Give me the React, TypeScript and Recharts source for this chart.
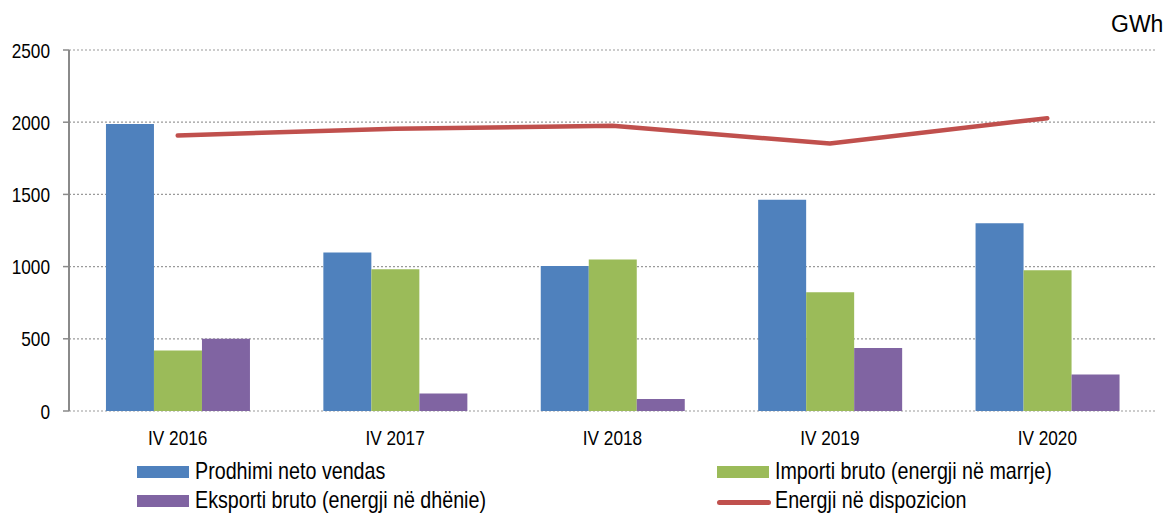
import { ComposedChart, Bar, Line, XAxis, YAxis, CartesianGrid } from "recharts";

const quarters = ["IV 2016", "IV 2017", "IV 2018", "IV 2019", "IV 2020"];
const prodhimi = [1987, 1097, 1005, 1463, 1301];
const importi = [419, 982, 1049, 822, 975];
const eksporti = [500, 121, 83, 437, 253];
const disponim = [1908, 1955, 1975, 1852, 2028];
const yTicks = [0, 500, 1000, 1500, 2000, 2500];
const edgeTicks = [0, 1, 2, 3, 4, 5];

// no Arial Narrow in the sandbox: squeeze Liberation Sans horizontally instead
const FONT = '"Liberation Sans", Arial, sans-serif';
const SQUEEZE = 0.82;
const FS = 21;
const LEGEND_FS = 24;
const AXIS = "#8a8a8a";

const series = [
    { key: "prodhimi", label: "Prodhimi neto vendas", color: "#4F81BD", kind: "bar" },
    { key: "importi", label: "Importi bruto (energji në marrje)", color: "#9BBB59", kind: "bar" },
    { key: "eksporti", label: "Eksporti bruto (energji në dhënie)", color: "#8064A2", kind: "bar" },
    { key: "disponim", label: "Energji në dispozicion", color: "#C0504D", kind: "line" },
];

const data = quarters.map((q, i) => ({
    q,
    prodhimi: prodhimi[i],
    importi: importi[i],
    eksporti: eksporti[i],
    disponim: disponim[i],
}));

const XTick = ({ x, y, payload }: any) => (
    <text
        transform={`translate(${x},${y}) scale(${SQUEEZE},1)`}
        textAnchor="middle"
        dy="0.71em"
        fill="#000"
        fontSize={FS}
        fontFamily={FONT}
    >
        {payload.value}
    </text>
);

const YTick = ({ x, y, payload }: any) => (
    <text
        transform={`translate(${x},${y}) scale(${SQUEEZE},1)`}
        textAnchor="end"
        dy="0.36em"
        fill="#000"
        fontSize={FS}
        fontFamily={FONT}
    >
        {payload.value}
    </text>
);

// two-column legend: blue, green / purple, red
const legendX = [137, 717];
const legendBaseline = [479, 508];

const Legend2 = () => (
    <div style={{ position: "absolute", left: 0, top: 0, width: 1168, height: 514, fontFamily: FONT, fontSize: LEGEND_FS, color: "#000", pointerEvents: "none" }}>
        {series.map((s, i) => {
            const left = legendX[i % 2];
            const base = legendBaseline[Math.floor(i / 2)];
            return (
                <div key={s.key}>
                    {s.kind === "bar" ? (
                        <div style={{ position: "absolute", left, top: base - 13, width: 52, height: 12, background: s.color }} />
                    ) : (
                        <div style={{ position: "absolute", left: left, top: base - 8, width: 54, height: 5, borderRadius: 3, background: s.color }} />
                    )}
                    <div
                        style={{
                            position: "absolute",
                            left: left + 58,
                            top: base - 22,
                            lineHeight: "27px",
                            whiteSpace: "nowrap",
                            transform: `scaleX(${SQUEEZE})`,
                            transformOrigin: "left center",
                        }}
                    >
                        {s.label}
                    </div>
                </div>
            );
        })}
    </div>
);

export default function App() {
    return (
        <div style={{ position: "absolute", left: 0, top: 0, width: 1168, height: 514, background: "#fff", overflow: "hidden" }}>
            <div style={{ position: "absolute", left: 1111, top: 11, fontFamily: FONT, fontSize: 23 }}>GWh</div>
            <ComposedChart
                width={1168}
                height={514}
                data={data}
                margin={{ top: 50, right: 12, bottom: 73, left: 0 }}
                barCategoryGap="17%"
                barGap={0}
            >
                <CartesianGrid vertical={false} stroke="#9a9a9a" strokeDasharray="2 2" strokeWidth={1.2} />
                <XAxis
                    xAxisId="edge"
                    type="number"
                    domain={[0, 5]}
                    ticks={edgeTicks}
                    height={0}
                    tickFormatter={() => ""}
                    axisLine={{ stroke: AXIS, strokeWidth: 2 }}
                    tickLine={{ stroke: AXIS, strokeWidth: 1.5 }}
                    tickSize={6}
                />
                <XAxis
                    xAxisId="cat"
                    dataKey="q"
                    height={30}
                    axisLine={false}
                    tickLine={false}
                    tickSize={0}
                    tickMargin={19}
                    tick={<XTick />}
                />
                <YAxis
                    domain={[0, 2500]}
                    ticks={yTicks}
                    width={69}
                    axisLine={{ stroke: AXIS, strokeWidth: 2 }}
                    tickLine={{ stroke: AXIS, strokeWidth: 1.5 }}
                    tickSize={6}
                    tickMargin={13}
                    tick={<YTick />}
                />
                {series.filter((s) => s.kind === "bar").map((s) => (
                    <Bar key={s.key} xAxisId="cat" dataKey={s.key} name={s.label} fill={s.color} isAnimationActive={false} />
                ))}
                {series.filter((s) => s.kind === "line").map((s) => (
                    <Line
                        key={s.key}
                        xAxisId="cat"
                        type="linear"
                        dataKey={s.key}
                        name={s.label}
                        stroke={s.color}
                        strokeWidth={4.5}
                        strokeLinecap="round"
                        strokeLinejoin="round"
                        dot={false}
                        activeDot={false}
                        isAnimationActive={false}
                    />
                ))}
            </ComposedChart>
            <Legend2 />
        </div>
    );
}
